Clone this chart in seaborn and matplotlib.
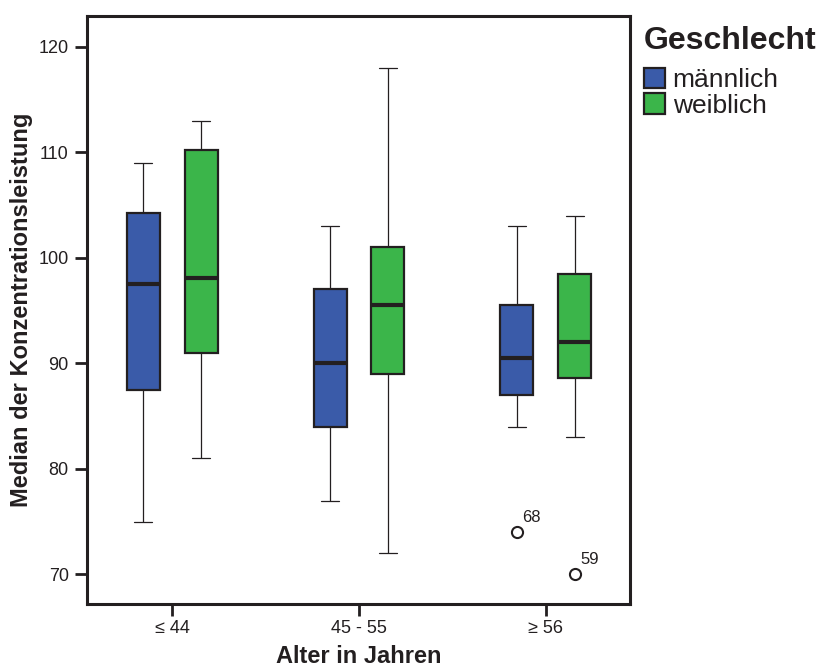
import matplotlib
matplotlib.use("Agg")
import matplotlib.pyplot as plt
import numpy as np
import pandas as pd
import seaborn as sns

# Box statistics per age group and sex
age_groups = ["≤ 44", "45 - 55", "≥ 56"]
sexes = ["männlich", "weiblich"]

male_whislo = [75.0, 77.0, 84.0]
male_q1 = [87.5, 84.0, 87.0]
male_median = [97.5, 90.0, 90.5]
male_q3 = [104.2, 97.0, 95.5]
male_whishi = [109.0, 103.0, 103.0]

female_whislo = [81.0, 72.0, 83.0]
female_q1 = [91.0, 89.0, 88.6]
female_median = [98.1, 95.5, 92.0]
female_q3 = [110.2, 101.0, 98.5]
female_whishi = [113.0, 118.0, 104.0]

# Outlying cases: (age group, sex, value, case number)
outlier_groups = ["≥ 56", "≥ 56"]
outlier_sexes = ["männlich", "weiblich"]
outlier_values = [74.0, 70.0]
outlier_ids = ["68", "59"]

colors = {"männlich": "#3A5BA9", "weiblich": "#3BB54A"}
ink = "#231F20"


def samples(lo, q1, med, q3, hi, out=None):
    # nine values whose quartiles / whiskers reproduce the box statistics
    first = lo if out is None else out
    return [first, lo, q1, q1, med, q3, q3, hi, hi]


rows = []
stats = {
    "männlich": (male_whislo, male_q1, male_median, male_q3, male_whishi),
    "weiblich": (female_whislo, female_q1, female_median, female_q3, female_whishi),
}
for sex in sexes:
    lo, q1, med, q3, hi = stats[sex]
    for i, grp in enumerate(age_groups):
        out = None
        for g, s, v in zip(outlier_groups, outlier_sexes, outlier_values):
            if g == grp and s == sex:
                out = v
        for val in samples(lo[i], q1[i], med[i], q3[i], hi[i], out):
            rows.append({"Alter": grp, "Geschlecht": sex, "Wert": val})
df = pd.DataFrame(rows)

sns.set_theme(style="white")
plt.rcParams["font.family"] = ["Liberation Sans", "DejaVu Sans"]
plt.rcParams["text.color"] = ink
plt.rcParams["axes.labelcolor"] = ink
plt.rcParams["xtick.color"] = ink
plt.rcParams["ytick.color"] = ink

fig = plt.figure(figsize=(8.18, 6.67), dpi=100)
ax = fig.add_axes([0.1064, 0.0945, 0.6638, 0.8815])

sns.boxplot(
    data=df, x="Alter", y="Wert", hue="Geschlecht",
    order=age_groups, hue_order=sexes, palette=colors,
    width=0.62, gap=0.43, linecolor=ink, linewidth=1.6,
    saturation=1, capwidths=0.10,
    medianprops=dict(linewidth=3.0, color=ink),
    whiskerprops=dict(linewidth=0.9, color=ink),
    capprops=dict(linewidth=0.9, color=ink),
    flierprops=dict(marker="o", markersize=8, markerfacecolor="none",
                    markeredgecolor=ink, markeredgewidth=1.5),
    legend=True, ax=ax,
)

# label outlying cases with their case numbers
fliers = [ln for ln in ax.lines if ln.get_marker() == "o" and len(ln.get_xdata())]
for ln in fliers:
    for x, y in zip(ln.get_xdata(), ln.get_ydata()):
        for v, cid in zip(outlier_values, outlier_ids):
            if abs(y - v) < 1e-9:
                ax.annotate(cid, (x, y), xytext=(4, 5), textcoords="offset points",
                            fontsize=12, color=ink, ha="left", va="bottom")

ax.set_xlim(-0.455, 2.45)
ax.set_ylim(67.2, 122.9)
ax.set_yticks([70, 80, 90, 100, 110, 120])

for sp in ax.spines.values():
    sp.set_visible(True)
    sp.set_color(ink)
    sp.set_linewidth(2.2)

ax.tick_params(axis="both", which="major", direction="out", length=8.6, width=2.0,
               labelsize=13, colors=ink, bottom=True, left=True)
ax.tick_params(axis="x", pad=3)
ax.tick_params(axis="y", pad=4.5)
ax.set_xlabel("Alter in Jahren", fontsize=17, fontweight="bold", labelpad=6)
ax.set_ylabel("Median der Konzentrationsleistung", fontsize=17, fontweight="bold", labelpad=4)

sns.move_legend(
    ax, loc="upper left", bbox_to_anchor=(1.025, 0.912), frameon=False,
    title=None, fontsize=19,
    handlelength=0.8, handleheight=0.8, handletextpad=0.3, labelspacing=0.05,
    borderaxespad=0, borderpad=0,
)
leg = ax.get_legend()
for h in leg.legend_handles:
    h.set_edgecolor(ink)
    h.set_linewidth(1.6)

# legend heading
fig.text(644 / 818, 1 - 49 / 667, "Geschlecht", fontsize=23, fontweight="bold",
         color=ink, ha="left", va="baseline")

fig.savefig("out.png", dpi=100)
